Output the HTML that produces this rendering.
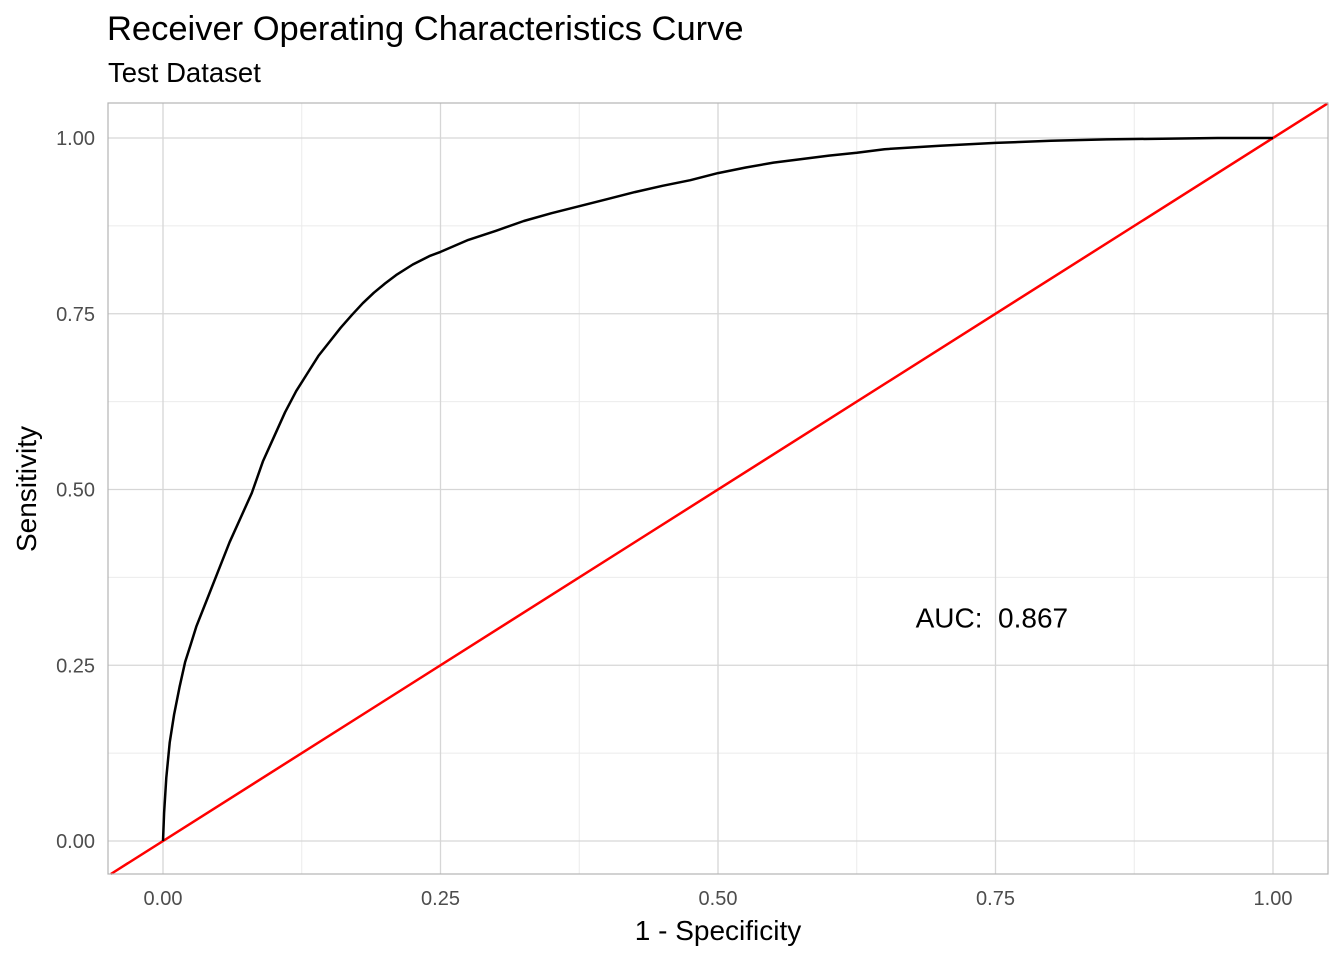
<!DOCTYPE html>
<html><head><meta charset="utf-8"><style>
body{margin:0;background:#fff;}
svg text{font-family:"Liberation Sans",Arial,sans-serif;}
</style></head><body>
<svg id="chart" width="1344" height="960">
<text x="107" y="40" font-size="34.5" fill="#000">Receiver Operating Characteristics Curve</text>
<text x="108" y="82" font-size="27.5" fill="#000">Test Dataset</text>
<g id="grid"></g>
<g id="plot"></g>
<rect x="108" y="103" width="1220" height="771" fill="none" stroke="#b3b3b3" stroke-width="1.2"/>
<text x="718" y="940" font-size="28" text-anchor="middle">1 - Specificity</text>
<text transform="translate(36,489) rotate(-90)" font-size="28" text-anchor="middle">Sensitivity</text>
</svg>
<script>
const ticks=[0,0.25,0.5,0.75,1];
const tickLabels=["0.00","0.25","0.50","0.75","1.00"];
const fpr=[0,0.001,0.003,0.006,0.01,0.015,0.02,0.025,0.03,0.04,0.05,0.06,0.07,0.08,0.09,0.1,0.11,0.12,0.13,0.14,0.15,0.16,0.17,0.18,0.19,0.2,0.21,0.225,0.24,0.25,0.275,0.3,0.325,0.35,0.375,0.4,0.425,0.45,0.475,0.5,0.525,0.55,0.575,0.6,0.625,0.65,0.7,0.75,0.8,0.85,0.9,0.95,1];
const tpr=[0,0.04,0.09,0.14,0.18,0.22,0.255,0.28,0.305,0.345,0.385,0.425,0.46,0.495,0.54,0.575,0.61,0.64,0.665,0.69,0.71,0.73,0.748,0.765,0.78,0.793,0.805,0.82,0.832,0.838,0.855,0.868,0.882,0.893,0.903,0.913,0.923,0.932,0.94,0.95,0.958,0.965,0.97,0.975,0.979,0.984,0.989,0.993,0.996,0.998,0.999,1,1];
const aucLabel="AUC:  0.867";
const aucPos=[0.678,0.318];
const NS="http://www.w3.org/2000/svg";
const X=v=>163+v*1110, Y=v=>841-v*703;
const L=108,R=1328,T=103,B=874;
function mk(t,a,p){const e=document.createElementNS(NS,t);for(const k in a)e.setAttribute(k,a[k]);p.appendChild(e);return e;}
const g=document.getElementById('grid'), p=document.getElementById('plot');
for(let i=0;i<ticks.length-1;i++){
  const m=(ticks[i]+ticks[i+1])/2;
  const a=mk('line',{x1:X(m),x2:X(m),y1:T,y2:B,stroke:'#ebebeb','stroke-width':1},g);
  
  const b=mk('line',{x1:L,x2:R,y1:Y(m),y2:Y(m),stroke:'#ebebeb','stroke-width':1},g);
  
}
ticks.forEach((t,i)=>{
  const a=mk('line',{x1:X(t),x2:X(t),y1:T,y2:B,stroke:'#d6d6d6','stroke-width':1.3},g);
  
  const b=mk('line',{x1:L,x2:R,y1:Y(t),y2:Y(t),stroke:'#d6d6d6','stroke-width':1.3},g);
  
  const tx=mk('text',{x:X(t),y:905,'font-size':20,fill:'#4d4d4d','text-anchor':'middle'},g);
  tx.textContent=tickLabels[i];
  const ty=mk('text',{x:95,y:Y(t)+7,'font-size':20,fill:'#4d4d4d','text-anchor':'end'},g);
  ty.textContent=tickLabels[i];
});
const lo=Math.max((L-163)/1110,(841-B)/703), hi=Math.min((R-163)/1110,(841-T)/703);
const d=mk('line',{x1:X(lo),y1:Y(lo),x2:X(hi),y2:Y(hi),stroke:'#ff0000','stroke-width':2.5},p);

const pts=fpr.map((f,i)=>X(f).toFixed(1)+','+Y(tpr[i]).toFixed(1)).join(' ');
const c=mk('polyline',{points:pts,fill:'none',stroke:'#000','stroke-width':2.5,'stroke-linejoin':'round'},p);

const at=mk('text',{x:X(aucPos[0]),y:Y(aucPos[1])+10,'font-size':28,fill:'#000','xml:space':'preserve'},p);
at.setAttribute('style','white-space:pre');
at.textContent=aucLabel;
</script>
</body></html>
